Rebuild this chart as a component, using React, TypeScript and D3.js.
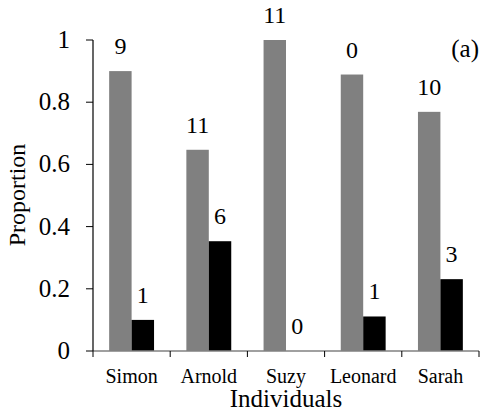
import React from "react";
import * as d3 from "d3";

const categories = ["Simon", "Arnold", "Suzy", "Leonard", "Sarah"];
const grayValues = [0.9, 0.647, 1.0, 0.889, 0.769];
const blackValues = [0.1, 0.353, 0, 0.111, 0.231];
const grayLabels = ["9", "11", "11", "0", "10"];
const blackLabels = ["1", "6", "0", "1", "3"];
const yTicks = [0, 0.2, 0.4, 0.6, 0.8, 1];
const yTickLabels = ["0", "0.2", "0.4", "0.6", "0.8", "1"];

const W = 481;
const H = 414;
const left = 93;
const right = 479;
const top = 40;
const bottom = 351;
const font = '"Liberation Serif", "Times New Roman", serif';

export default function App() {
  const x = d3.scaleBand<string>().domain(categories).range([left, right]).padding(0);
  const x1 = d3
    .scaleBand<string>()
    .domain(["g", "b"])
    .range([0, x.step()])
    .paddingInner(0)
    .paddingOuter(0.72);
  const y = d3.scaleLinear().domain([0, 1]).range([bottom, top]);
  const bounds = categories.map((c) => x(c) as number).concat([right]);
  const ts = { fontFamily: font };

  return (
    <svg
      width={W}
      height={H}
      style={{ position: "absolute", left: 0, top: 0, background: "#fff", fontFamily: font }}
    >
      {categories.map((c, i) => {
        const bx = x(c) as number;
        const gx = bx + (x1("g") as number);
        const kx = bx + (x1("b") as number);
        const bw = x1.bandwidth();
        return (
          <g key={c}>
            <rect x={gx} y={y(grayValues[i])} width={bw} height={bottom - y(grayValues[i])} fill="#808080" />
            {blackValues[i] > 0 && (
              <rect x={kx} y={y(blackValues[i])} width={bw} height={bottom - y(blackValues[i])} fill="#000" />
            )}
            <text style={ts} x={gx + bw / 2} y={y(grayValues[i]) - 17} textAnchor="middle" fontSize={24} fill="#000">
              {grayLabels[i]}
            </text>
            <text style={ts} x={kx + bw / 2} y={y(blackValues[i]) - 17} textAnchor="middle" fontSize={24} fill="#000">
              {blackLabels[i]}
            </text>
            <text style={ts} x={bx + x.bandwidth() / 2} y={383} textAnchor="middle" fontSize={20} fill="#000">
              {c}
            </text>
          </g>
        );
      })}
      {/* x axis */}
      <line x1={left} x2={right} y1={bottom} y2={bottom} stroke="#808080" strokeWidth={1.5} />
      {bounds.map((b, i) => (
        <line key={i} x1={b} x2={b} y1={bottom} y2={bottom + 6} stroke="#000" strokeWidth={1} />
      ))}
      {/* y axis */}
      <line x1={left} x2={left} y1={top} y2={bottom} stroke="#000" strokeWidth={1.2} />
      {yTicks.map((t, i) => (
        <g key={t}>
          <line x1={left - 7} x2={left} y1={y(t)} y2={y(t)} stroke="#000" strokeWidth={1} />
          <text style={ts} x={70} y={y(t) + 8} textAnchor="end" fontSize={25} fill="#000">
            {yTickLabels[i]}
          </text>
        </g>
      ))}
      <text style={ts} transform={`translate(25,195) rotate(-90)`} textAnchor="middle" fontSize={24} fill="#000">
        Proportion
      </text>
      <text style={ts} x={(left + right) / 2} y={407} textAnchor="middle" fontSize={25} fill="#000">
        Individuals
      </text>
      <text style={ts} x={479} y={57} textAnchor="end" fontSize={25} fill="#000">
        (a)
      </text>
    </svg>
  );
}
